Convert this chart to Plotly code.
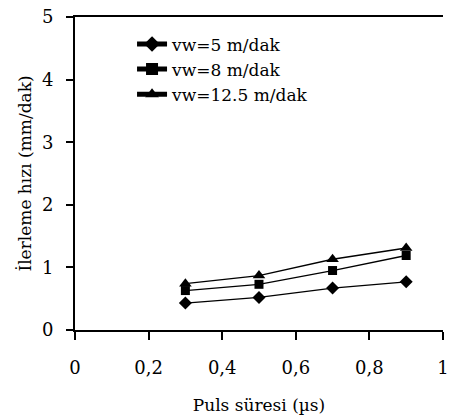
import plotly.graph_objects as go

pulse = [0.3, 0.5, 0.7, 0.9]
vw5 = [0.43, 0.52, 0.67, 0.77]
vw8 = [0.63, 0.73, 0.95, 1.19]
vw125 = [0.74, 0.87, 1.13, 1.31]
names = ["vw=5 m/dak", "vw=8 m/dak", "vw=12.5 m/dak"]
symbols = ["diamond", "square", "triangle-up"]
sizes = [10, 9, 11]

FONT = "DejaVu Serif"
TF = dict(family=FONT, size=18, color="black")

fig = go.Figure()
for name, ys, sym, sz in zip(names, [vw5, vw8, vw125], symbols, sizes):
    fig.add_trace(go.Scatter(
        x=pulse, y=ys, name=name, mode="lines+markers",
        line=dict(color="black", width=1.3),
        marker=dict(symbol=sym, size=sz, color="black"),
    ))

fig.update_layout(
    width=449, height=419,
    margin=dict(l=75, r=0, t=17, b=89),
    paper_bgcolor="white", plot_bgcolor="white",
    font=dict(family=FONT, size=17, color="black"),
    showlegend=True,
    legend=dict(x=0.155, y=0.97, xanchor="left", yanchor="top",
                bgcolor="rgba(0,0,0,0)", font=dict(family=FONT, size=17),
                tracegroupgap=0, itemsizing="constant"),
    xaxis=dict(range=[0, 1.0001], tickvals=[0, 0.2, 0.4, 0.6, 0.8, 1],
               ticktext=["0", "0,2", "0,4", "0,6", "0,8", "1"],
               tickfont=TF, ticklabeloverflow="allow",
               showline=True, linecolor="black", linewidth=2, mirror=True,
               ticks="outside", ticklen=8, tickwidth=2, tickcolor="black",
               showgrid=False, zeroline=False,
               ticklabelstandoff=12,
               title=dict(text="Puls süresi (µs)", standoff=23,
                          font=dict(family=FONT, size=17))),
    yaxis=dict(range=[0, 5], tickvals=[0, 1, 2, 3, 4, 5],
               tickfont=TF,
               showline=True, linecolor="black", linewidth=2,
               ticks="outside", ticklen=7, tickwidth=2, tickcolor="black",
               showgrid=False, zeroline=False,
               ticklabelstandoff=9,
               title=dict(text="İlerleme hızı (mm/dak)", standoff=6,
                          font=dict(family=FONT, size=17))),
)

fig.write_html("out.html")
